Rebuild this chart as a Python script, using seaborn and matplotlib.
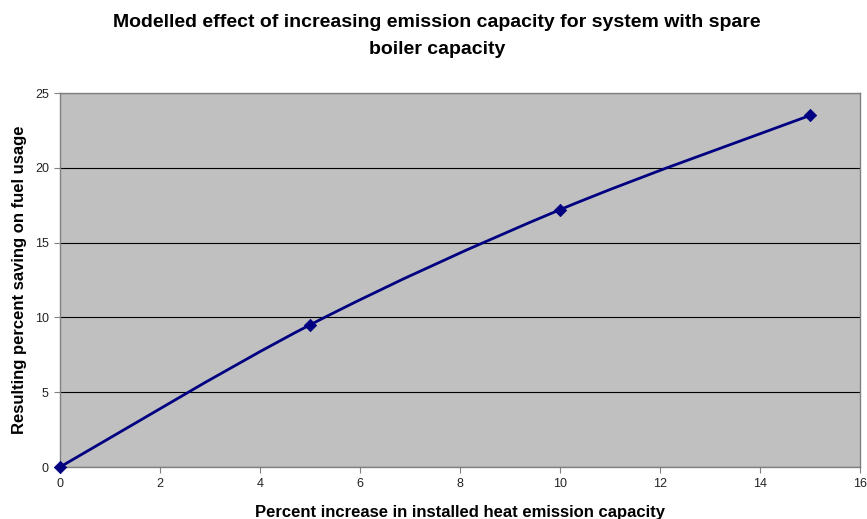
import numpy as np
import pandas as pd
import matplotlib
matplotlib.use("Agg")
import matplotlib.pyplot as plt
from matplotlib.path import Path
from matplotlib.patches import PathPatch
import seaborn as sns

x_values = [0, 5, 10, 15]
y_values = [0, 9.5, 17.2, 23.5]
x_ticks = [0, 2, 4, 6, 8, 10, 12, 14, 16]
y_ticks = [0, 5, 10, 15, 20, 25]
title = "Modelled effect of increasing emission capacity for system with spare\nboiler capacity"
x_label = "Percent increase in installed heat emission capacity"
y_label = "Resulting percent saving on fuel usage"

sns.set_style("white")
plt.rcParams['font.family'] = ['Liberation Sans', 'DejaVu Sans']

df = pd.DataFrame({"x": x_values, "y": y_values})

fig = plt.figure(figsize=(8.67, 5.19), dpi=100)
ax = fig.add_axes([60/867, 1-467/519, 800/867, 374/519])
ax.set_facecolor("#C0C0C0")

# smooth curve (Catmull-Rom style Bezier through the data points)
pts = np.column_stack([df["x"].to_numpy(float), df["y"].to_numpy(float)])
ext = np.vstack([pts[0], pts, pts[-1]])
verts = [tuple(pts[0])]
codes = [Path.MOVETO]
for i in range(1, len(ext) - 2):
    p0, p1, p2, p3 = ext[i-1], ext[i], ext[i+1], ext[i+2]
    c1 = p1 + (p2 - p0) / 6
    c2 = p2 - (p3 - p1) / 6
    verts += [tuple(c1), tuple(c2), tuple(p2)]
    codes += [Path.CURVE4] * 3
ax.add_patch(PathPatch(Path(verts, codes), facecolor="none", edgecolor="#000080",
                       lw=2, zorder=3))
sns.scatterplot(data=df, x="x", y="y", marker="D", s=40, color="#000080",
                edgecolor="#000080", ax=ax, zorder=4, clip_on=False)

ax.set_xlim(0, 16)
ax.set_ylim(0, 25)
ax.set_xticks(x_ticks)
ax.set_yticks(y_ticks)
ax.yaxis.grid(True, color="black", lw=0.8)
ax.set_axisbelow(True)
for s in ax.spines.values():
    s.set_color("#808080")
    s.set_linewidth(1)
ax.tick_params(axis="both", direction="out", length=4, width=0.8, color="#808080",
               labelsize=9, labelcolor="#222222", pad=4, bottom=True, left=True)
ax.set_xlabel(x_label, fontsize=12, fontweight="bold", labelpad=10.5, color="black")
ax.set_ylabel(y_label, fontsize=12, fontweight="bold", labelpad=6, color="black")
fig.suptitle(title, fontsize=14, fontweight="bold", x=437/867, y=1 - 14/519,
             va="top", linespacing=1.75, color="black")

fig.savefig("out.png", dpi=100)
